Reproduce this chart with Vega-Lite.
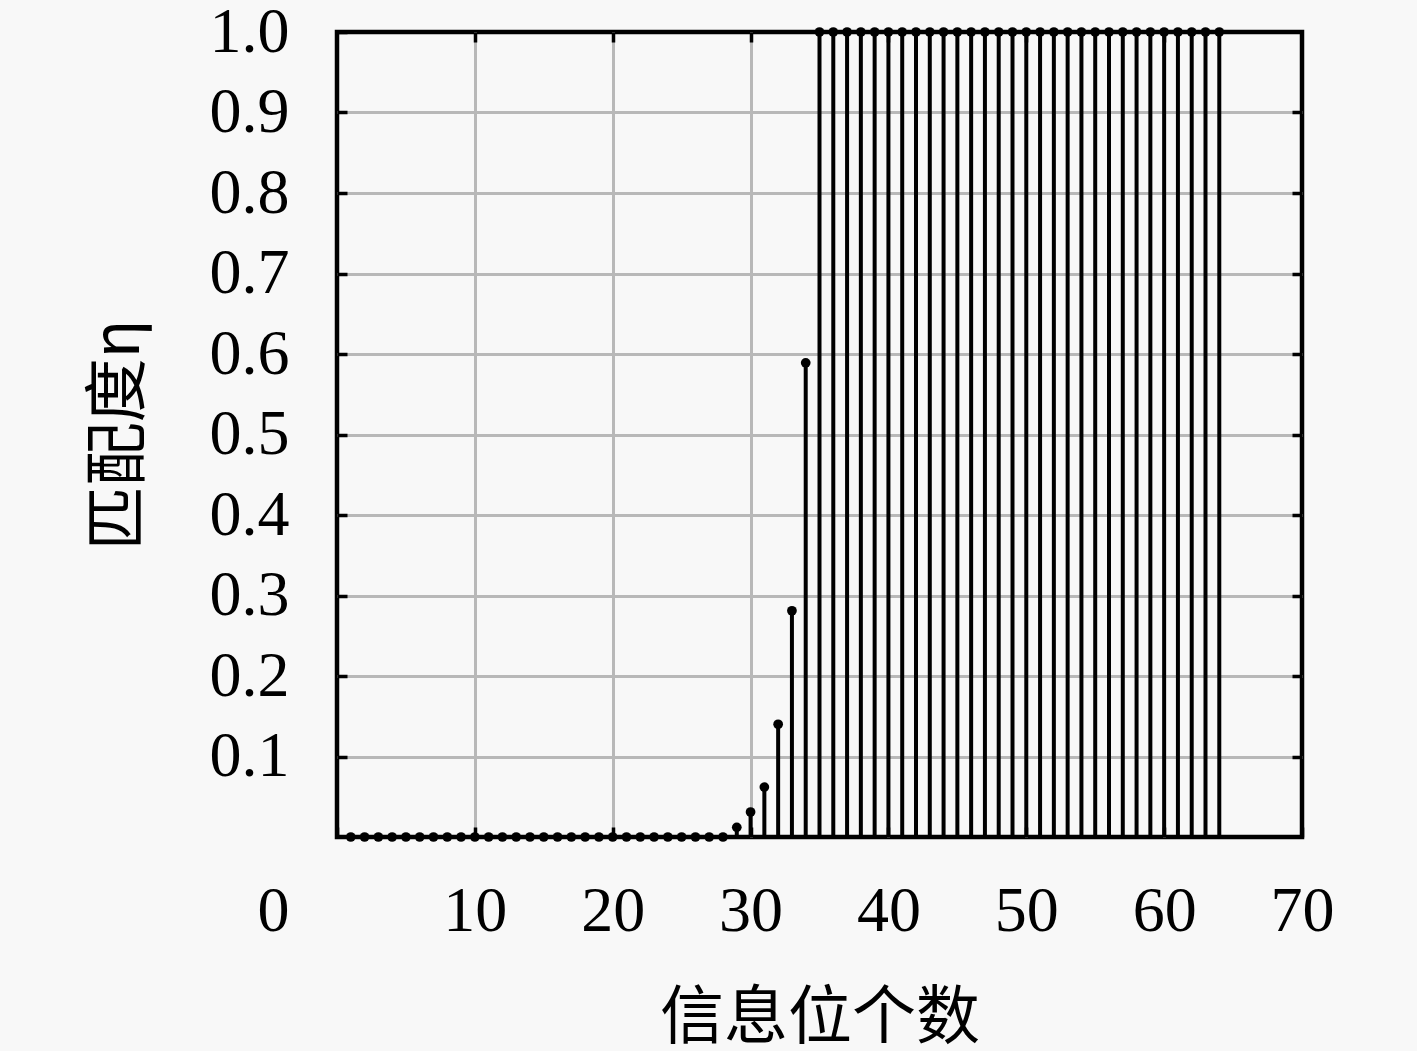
{
  "$schema": "https://vega.github.io/schema/vega-lite/v6.json",
  "width": 965,
  "height": 805,
  "autosize": "none",
  "padding": {"left": 337, "top": 32, "right": 115, "bottom": 214},
  "background": "#f8f8f8",
  "data": {
    "values": [
      {"n": 1, "eta": 0}, {"n": 2, "eta": 0}, {"n": 3, "eta": 0}, {"n": 4, "eta": 0},
      {"n": 5, "eta": 0}, {"n": 6, "eta": 0}, {"n": 7, "eta": 0}, {"n": 8, "eta": 0},
      {"n": 9, "eta": 0}, {"n": 10, "eta": 0}, {"n": 11, "eta": 0}, {"n": 12, "eta": 0},
      {"n": 13, "eta": 0}, {"n": 14, "eta": 0}, {"n": 15, "eta": 0}, {"n": 16, "eta": 0},
      {"n": 17, "eta": 0}, {"n": 18, "eta": 0}, {"n": 19, "eta": 0}, {"n": 20, "eta": 0},
      {"n": 21, "eta": 0}, {"n": 22, "eta": 0}, {"n": 23, "eta": 0}, {"n": 24, "eta": 0},
      {"n": 25, "eta": 0}, {"n": 26, "eta": 0}, {"n": 27, "eta": 0}, {"n": 28, "eta": 0},
      {"n": 29, "eta": 0.012}, {"n": 30, "eta": 0.031}, {"n": 31, "eta": 0.062},
      {"n": 32, "eta": 0.14}, {"n": 33, "eta": 0.281}, {"n": 34, "eta": 0.589},
      {"n": 35, "eta": 1}, {"n": 36, "eta": 1}, {"n": 37, "eta": 1}, {"n": 38, "eta": 1},
      {"n": 39, "eta": 1}, {"n": 40, "eta": 1}, {"n": 41, "eta": 1}, {"n": 42, "eta": 1},
      {"n": 43, "eta": 1}, {"n": 44, "eta": 1}, {"n": 45, "eta": 1}, {"n": 46, "eta": 1},
      {"n": 47, "eta": 1}, {"n": 48, "eta": 1}, {"n": 49, "eta": 1}, {"n": 50, "eta": 1},
      {"n": 51, "eta": 1}, {"n": 52, "eta": 1}, {"n": 53, "eta": 1}, {"n": 54, "eta": 1},
      {"n": 55, "eta": 1}, {"n": 56, "eta": 1}, {"n": 57, "eta": 1}, {"n": 58, "eta": 1},
      {"n": 59, "eta": 1}, {"n": 60, "eta": 1}, {"n": 61, "eta": 1}, {"n": 62, "eta": 1},
      {"n": 63, "eta": 1}, {"n": 64, "eta": 1}
    ]
  },
  "layer": [
    {
      "mark": {"type": "rule", "color": "black", "strokeWidth": 4},
      "encoding": {
        "x": {
          "field": "n",
          "type": "quantitative",
          "scale": {"domain": [0, 70], "nice": false},
          "axis": {
            "values": [0, 10, 20, 30, 40, 50, 60, 70],
            "title": "信息位个数",
            "titleFont": "Noto Sans CJK SC",
            "titleFontSize": 64,
            "titleFontWeight": "normal",
            "titleColor": "black",
            "titlePadding": 43,
            "labelFont": "Liberation Serif",
            "labelFontSize": 64,
            "labelColor": "black",
            "labelPadding": 52,
            "labelOverlap": false,
            "labelFlush": false,
            "labelOffset": {"condition": {"test": "datum.value == 0", "value": -64}, "value": 0},
            "domain": false,
            "tickSize": -10,
            "tickWidth": 3.5,
            "tickColor": "black",
            "grid": true,
            "gridColor": {"condition": {"test": "datum.value == 0 || datum.value == 70", "value": "transparent"}, "value": "#b8b8b8"},
            "gridWidth": 3
          }
        },
        "y": {
          "field": "eta",
          "type": "quantitative",
          "scale": {"domain": [0, 1], "nice": false},
          "axis": {
            "values": [0.1, 0.2, 0.3, 0.4, 0.5, 0.6, 0.7, 0.8, 0.9, 1.0],
            "format": ".1f",
            "title": "匹配度η",
            "titleFont": "Noto Sans CJK SC",
            "titleFontSize": 64,
            "titleFontWeight": "normal",
            "titleColor": "black",
            "titlePadding": 58,
            "labelFont": "Liberation Serif",
            "labelFontSize": 64,
            "labelColor": "black",
            "labelPadding": 58,
            "labelOverlap": false,
            "labelFlush": false,
            "domain": false,
            "tickSize": -10,
            "tickWidth": 3.5,
            "tickColor": "black",
            "grid": true,
            "gridColor": {"condition": {"test": "datum.value >= 1", "value": "transparent"}, "value": "#b8b8b8"},
            "gridWidth": 3
          }
        },
        "y2": {"datum": 0}
      }
    },
    {
      "mark": {"type": "point", "filled": true, "color": "black", "size": 95, "opacity": 1},
      "encoding": {
        "x": {
          "field": "n",
          "type": "quantitative",
          "axis": {
            "orient": "top",
            "values": [10, 20, 30, 40, 50, 60],
            "labels": false,
            "title": null,
            "domain": false,
            "grid": false,
            "tickSize": -10,
            "tickWidth": 3.5,
            "tickColor": "black"
          }
        },
        "y": {
          "field": "eta",
          "type": "quantitative",
          "axis": {
            "orient": "right",
            "values": [0.1, 0.2, 0.3, 0.4, 0.5, 0.6, 0.7, 0.8, 0.9],
            "labels": false,
            "title": null,
            "domain": false,
            "grid": false,
            "tickSize": -10,
            "tickWidth": 3.5,
            "tickColor": "black"
          }
        }
      }
    }
  ],
  "resolve": {"axis": {"x": "independent", "y": "independent"}},
  "config": {
    "view": {"stroke": "black", "strokeWidth": 4.5}
  }
}
